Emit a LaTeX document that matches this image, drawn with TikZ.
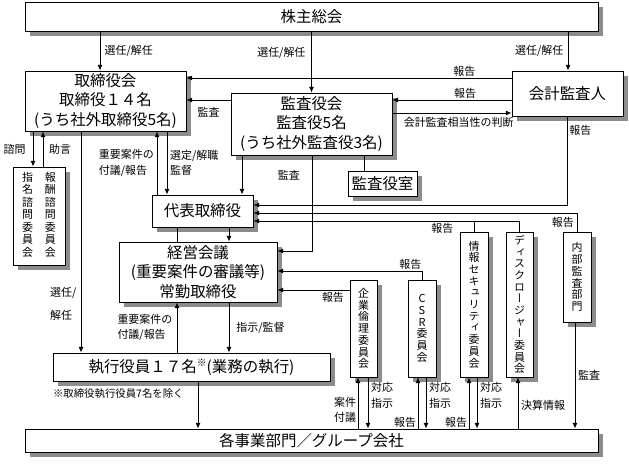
\documentclass[tikz,border=0pt]{standalone}
\usepackage{fontspec}
\setmainfont{Noto Sans CJK JP}
\newfontfamily\tatefont[RawFeature=+vert]{Noto Sans CJK JP}
\usepackage{graphicx}
\usetikzlibrary{positioning, arrows.meta, shadows}

\begin{document}
\begin{tikzpicture}[x=0.025cm, y=-0.025cm, >={Latex[length=4pt,width=3.4pt]}, line width=0.6pt,
  box/.style={draw, fill=white, inner sep=0pt, align=center, font=\fontsize{11}{13.9}\selectfont,
    drop shadow={shadow xshift=0.13cm, shadow yshift=-0.13cm, fill=black!45, opacity=1}},
  tbox/.style={box, font=\tatefont\fontsize{7.8}{8.3}\selectfont},
  sz/.style 2 args={minimum width=#1*0.025cm, minimum height=#2*0.025cm},
  lbl/.style={inner sep=1pt, align=left, font=\fontsize{7.8}{11}\selectfont},
  note/.style={inner sep=0pt, font=\fontsize{7.4}{9}\selectfont}]

\useasboundingbox (0,0) rectangle (629,465);

% Nodes
\node[box, sz={573}{29}] (gm) at (311.5,16.5) {株主総会};
\node[box, sz={161}{60}] (board) at (105.5,101) {取締役会\\取締役１４名\\(うち社外取締役5名)};
\node[box, sz={161}{62}] (kansa) at (311.5,124) {監査役会\\監査役5名\\(うち社外監査役3名)};
\node[box, sz={111}{45}] (auditor) at (567.5,93.5) {会計監査人};
\node[box, sz={69}{25}] (office) at (382.5,183.5) {監査役室};
\node[tbox, sz={52}{98}] (advisory) at (39,216) {\begin{tabular}{@{}c@{\hspace{8.5pt}}c@{}}
  指&報\\名&酬\\諮&諮\\問&問\\委&委\\員&員\\会&会\end{tabular}};
\node[box, sz={101}{32}] (ceo) at (202.5,211) {代表取締役};
\node[box, sz={158}{60}] (mgmt) at (198,272) {経営会議\\(重要案件の審議等)\\常勤取締役};
\node[box, sz={277}{28}] (exec) at (191.5,367) {執行役員１７名\raisebox{.35em}{\scriptsize ※}(業務の執行)};
\node[note, anchor=north west] (footnote) at ([yshift=-5pt]exec.south west) {※取締役執行役員7名を除く};
\node[box, sz={573}{23}] (div) at (311.5,440.5) {各事業部門／グループ会社};
\node[tbox, sz={27}{97}] (ethics) at (363.5,328.5) {企\\業\\倫\\理\\委\\員\\会};
\node[tbox, sz={28}{97}] (csr) at (422,328.5) {C\\S\\R\\委\\員\\会};
\node[tbox, sz={28}{145}] (infosec) at (474,304.5) {情\\報\\セ\\キ\\ュ\\リ\\テ\\ィ\\委\\員\\会};
\node[tbox, sz={27}{145}] (disc) at (519.5,304.5) {デ\\ィ\\ス\\ク\\ロ\\ー\\ジ\\ャ\\ー\\委\\員\\会};
\node[tbox, sz={28}{90}] (audit) at (577,277) {内\\部\\監\\査\\部\\門};

% Arrows from the shareholders' meeting
\draw[->] (100,0 |- gm.south) -- (100,0 |- board.north) node[lbl, midway, right=2pt] {選任/解任};
\draw[->] (gm.south) -- (kansa.north) node[lbl, pos=0.35, left=3pt] {選任/解任};
\draw[->] (568,0 |- gm.south) -- (568,0 |- auditor.north) node[lbl, midway, left=2pt] {選任/解任};

% Auditors
\draw[->] (auditor.west |- 0,78) -- (board.east |- 0,78) node[lbl, pos=0.145, above] {報告};
\draw[->] (auditor.west |- 0,100) -- (kansa.east |- 0,100) node[lbl, pos=0.39, above] {報告};
\draw[->] (kansa.east |- 0,113) -- (auditor.west |- 0,113) node[lbl, pos=0.08, anchor=north west, yshift=-2pt] {会計監査相当性の判断};
\draw[->] (kansa.west |- 0,100) -- (board.east |- 0,100) node[lbl, midway, below=4pt] {監査};
\draw[->] (242,0 |- kansa.south) -- (242,0 |- ceo.north) node[lbl, midway, anchor=west, xshift=0.85cm] {監査};
\draw[->] (312,0 |- kansa.south) |- (mgmt.east |- 0,251);
\draw (364,0 |- kansa.south) -- (364,0 |- office.north);

% Reports to the representative director
\draw[->] (auditor.south) |- (ceo.east |- 0,205) node[lbl, pos=0.08, right] {報告};
\draw[->] (audit.north) |- (ceo.east |- 0,213) node[lbl, pos=0.26, left=1pt] {報告};
\draw[->] (disc.north) |- (ceo.east |- 0,221) node[lbl, pos=0.645, below] {報告};
\draw (infosec.north) -- (infosec.north |- 0,221);

% Board and management
\draw[->] (33,0 |- board.south) -- (33,0 |- advisory.north) node[lbl, midway, left=4pt] {諮問};
\draw[->] (43,0 |- advisory.north) -- (43,0 |- board.south) node[lbl, midway, right=3pt] {助言};
\draw[->] (157,0 |- ceo.north) -- (157,0 |- board.south) node[lbl, midway, left=1pt] {重要案件の\\付議/報告};
\draw[->] (167,0 |- board.south) -- (167,0 |- ceo.north) node[lbl, midway, right=1pt] {選定/解職\\監督};
\draw[->] (81,0 |- board.south) -- (81,0 |- exec.north) node[lbl, pos=0.78, left=2pt] {選任/\\[5pt]解任};
\draw (177,0 |- ceo.south) -- (177,0 |- mgmt.north);
\draw[->] (229,0 |- ceo.south) -- (229,0 |- mgmt.north);
\draw[->] (229,0 |- mgmt.south) -- (229,0 |- exec.north) node[lbl, midway, right=4pt] {指示/監督};
\draw[->] (177,0 |- exec.north) -- (177,0 |- mgmt.south) node[lbl, midway, left=2pt] {重要案件の\\付議/報告};
\draw[->] (198,0 |- exec.south) -- (198,0 |- div.north);

% Committees
\draw[->] (ethics.west |- 0,290) -- (mgmt.east |- 0,290) node[lbl, pos=0.23, below] {報告};
\draw[->] (csr.north) |- (mgmt.east |- 0,271) node[lbl, pos=0.54, above] {報告};
\draw[->] (358,0 |- div.north) -- (358,0 |- ethics.south) node[lbl, pos=0.37, left=0pt] {案件\\付議};
\draw[->] (368,0 |- ethics.south) -- (368,0 |- div.north) node[lbl, pos=0.35, right=1pt] {対応\\指示};
\draw[->] (418,0 |- div.north) -- (418,0 |- csr.south) node[lbl, pos=0.13, left=0pt] {報告};
\draw[->] (426,0 |- csr.south) -- (426,0 |- div.north) node[lbl, pos=0.35, right=1pt] {対応\\指示};
\draw[->] (469,0 |- div.north) -- (469,0 |- infosec.south) node[lbl, pos=0.13, left=0pt] {報告};
\draw[->] (477,0 |- infosec.south) -- (477,0 |- div.north) node[lbl, pos=0.35, right=1pt] {対応\\指示};
\draw[->] (518,0 |- div.north) -- (518,0 |- disc.south) node[lbl, pos=0.46, right=1pt] {決算情報};
\draw[->] (575,0 |- audit.south) -- (575,0 |- div.north) node[lbl, midway, right=1pt] {監査};

\end{tikzpicture}
\end{document}
